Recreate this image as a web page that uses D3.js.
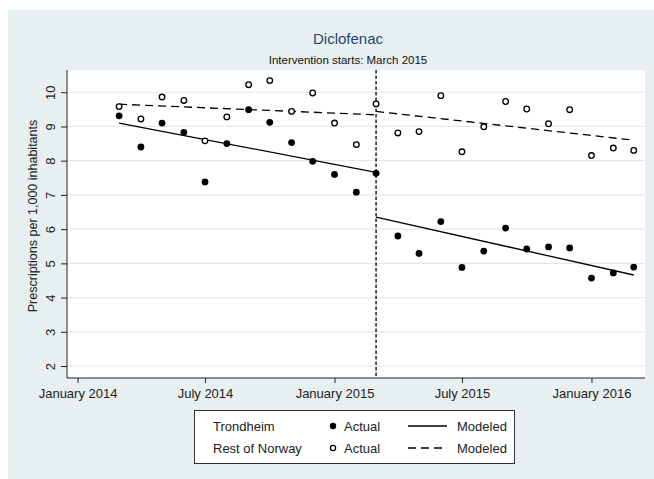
<!DOCTYPE html>
<html>
<head>
	<title>Diclofenac</title>
	<script type="text/javascript" src="https://cdn.jsdelivr.net/npm/d3@7"></script>
	<style>
		body { margin: 0; background: #ffffff; }
		svg text { font-family: "Liberation Sans", Arial, sans-serif; }
	</style>
</head>
<body>

<div id='chart'></div>

<script type="text/javascript">

// monthly observations, March 2014 .. March 2016
var months = ['2014-03', '2014-04', '2014-05', '2014-06', '2014-07', '2014-08', '2014-09',
	'2014-10', '2014-11', '2014-12', '2015-01', '2015-02', '2015-03', '2015-04', '2015-05',
	'2015-06', '2015-07', '2015-08', '2015-09', '2015-10', '2015-11', '2015-12', '2016-01',
	'2016-02', '2016-03'];

var trondheim = [9.31, 8.40, 9.10, 8.83, 7.38, 8.50, 9.49, 9.12, 8.53, 7.98, 7.60, 7.08, 7.63,
	5.80, 5.29, 6.22, 4.88, 5.36, 6.03, 5.42, 5.48, 5.45, 4.57, 4.72, 4.89];

var restOfNorway = [9.58, 9.22, 9.86, 9.76, 8.58, 9.28, 10.22, 10.34, 9.44, 9.98, 9.10, 8.47, 9.66,
	8.81, 8.85, 9.90, 8.26, 8.99, 9.73, 9.51, 9.08, 9.49, 8.15, 8.37, 8.30];

// modeled segments: [start month, start value, end month, end value]
var trondheimModel = [
	['2014-03', 9.10, '2015-03', 7.66],
	['2015-03', 6.35, '2016-03', 4.66]
];
var restOfNorwayModel = [
	['2014-03', 9.65, '2015-03', 9.34],
	['2015-03', 9.44, '2016-03', 8.60]
];

var intervention = '2015-03';

var yTicks = [2, 3, 4, 5, 6, 7, 8, 9, 10];
var xTicks = ['2014-01', '2014-07', '2015-01', '2015-07', '2016-01'];
var xTickLabels = ['January 2014', 'July 2014', 'January 2015', 'July 2015', 'January 2016'];

var W = 654, H = 479;
var plot = {left: 67, right: 645, top: 70, bottom: 378};

var parseMonth = d3.timeParse('%Y-%m');

var svg = d3.select('#chart').append('svg')
	.attr('width', W)
	.attr('height', H);

// graph region
svg.append('rect')
	.attr('x', 8).attr('y', 10)
	.attr('width', W - 8).attr('height', H - 10)
	.attr('fill', '#e8eff1');

// plot region
svg.append('rect')
	.attr('x', plot.left).attr('y', plot.top)
	.attr('width', plot.right - plot.left).attr('height', plot.bottom - plot.top)
	.attr('fill', '#ffffff');

var x = d3.scaleTime()
	.domain([new Date(2013, 11, 17), new Date(2016, 2, 17)])
	.range([plot.left, plot.right]);

var y = d3.scaleLinear()
	.domain([1.65, 10.65])
	.range([plot.bottom, plot.top]);

// grid
svg.append('g').selectAll('line').data(yTicks)
	.enter().append('line')
		.attr('x1', plot.left).attr('x2', plot.right)
		.attr('y1', function(d){ return y(d); })
		.attr('y2', function(d){ return y(d); })
		.attr('stroke', '#e3eaed')
		.attr('stroke-width', 1.2);

// y axis
var yAxis = svg.append('g')
	.attr('transform', 'translate(' + plot.left + ',0)')
	.call(d3.axisLeft(y).tickValues(yTicks).tickSize(6).tickPadding(4));
yAxis.select('.domain').attr('d', 'M0,' + plot.top + 'V' + plot.bottom).attr('stroke', '#222');
yAxis.selectAll('.tick line').attr('stroke', '#222');
yAxis.selectAll('.tick text')
	.attr('x', 0).attr('dy', 0)
	.attr('transform', 'translate(-12,0) rotate(-90)')
	.attr('text-anchor', 'middle')
	.attr('font-size', 13)
	.attr('fill', '#222');

// x axis
var xAxis = svg.append('g')
	.attr('transform', 'translate(0,' + plot.bottom + ')')
	.call(d3.axisBottom(x)
		.tickValues(xTicks.map(parseMonth))
		.tickFormat(function(d, i){ return xTickLabels[i]; })
		.tickSize(5).tickPadding(6));
xAxis.select('.domain').attr('d', 'M' + plot.left + ',0H' + plot.right).attr('stroke', '#222');
xAxis.selectAll('.tick line').attr('stroke', '#222');
xAxis.selectAll('.tick text')
	.attr('font-size', 13)
	.attr('fill', '#222');

// y title
svg.append('text')
	.attr('transform', 'translate(37,' + 216 + ') rotate(-90)')
	.attr('text-anchor', 'middle')
	.attr('font-size', 12.5)
	.attr('fill', '#222')
	.text('Prescriptions per 1,000 inhabitants');

// titles
svg.append('text')
	.attr('x', 348).attr('y', 44)
	.attr('text-anchor', 'middle')
	.attr('font-size', 15)
	.attr('fill', '#1a476f')
	.text('Diclofenac');

svg.append('text')
	.attr('x', 348).attr('y', 64)
	.attr('text-anchor', 'middle')
	.attr('font-size', 11.5)
	.attr('fill', '#111')
	.text('Intervention starts: March 2015');

// intervention line
svg.append('line')
	.attr('x1', x(parseMonth(intervention))).attr('x2', x(parseMonth(intervention)))
	.attr('y1', plot.top).attr('y2', plot.bottom)
	.attr('stroke', '#000')
	.attr('stroke-width', 1.3)
	.attr('stroke-dasharray', '3.5,2');

// modeled lines
function drawModel(segs, dash) {
	svg.append('g').selectAll('line').data(segs)
		.enter().append('line')
			.attr('x1', function(d){ return x(parseMonth(d[0])); })
			.attr('y1', function(d){ return y(d[1]); })
			.attr('x2', function(d){ return x(parseMonth(d[2])); })
			.attr('y2', function(d){ return y(d[3]); })
			.attr('stroke', '#000')
			.attr('stroke-width', 1.3)
			.attr('stroke-dasharray', dash);
}
drawModel(trondheimModel, null);
drawModel(restOfNorwayModel, '8,5');

// actual points
svg.append('g').selectAll('circle').data(restOfNorway)
	.enter().append('circle')
		.attr('cx', function(d, i){ return x(parseMonth(months[i])); })
		.attr('cy', function(d){ return y(d); })
		.attr('r', 2.8)
		.attr('fill', '#fff')
		.attr('stroke', '#000')
		.attr('stroke-width', 1.3);

svg.append('g').selectAll('circle').data(trondheim)
	.enter().append('circle')
		.attr('cx', function(d, i){ return x(parseMonth(months[i])); })
		.attr('cy', function(d){ return y(d); })
		.attr('r', 3.4)
		.attr('fill', '#000');

// legend
var legend = svg.append('g');
legend.append('rect')
	.attr('x', 194.5).attr('y', 410.5)
	.attr('width', 320).attr('height', 53)
	.attr('fill', '#fff')
	.attr('stroke', '#333')
	.attr('stroke-width', 1);

var legendRows = [
	{name: 'Trondheim', filled: true, dash: null},
	{name: 'Rest of Norway', filled: false, dash: '8,5'}
];

legendRows.forEach(function(row, i){
	var ly = 431 + i * 22;
	legend.append('text').attr('x', 213).attr('y', ly).attr('font-size', 13).attr('fill', '#222').text(row.name);
	legend.append('circle')
		.attr('cx', 333).attr('cy', ly - 5)
		.attr('r', row.filled ? 3.2 : 2.6)
		.attr('fill', row.filled ? '#000' : '#fff')
		.attr('stroke', '#000')
		.attr('stroke-width', row.filled ? 0 : 1.3);
	legend.append('text').attr('x', 344).attr('y', ly).attr('font-size', 13).attr('fill', '#222').text('Actual');
	legend.append('line')
		.attr('x1', 408).attr('x2', 447)
		.attr('y1', ly - 5).attr('y2', ly - 5)
		.attr('stroke', '#000')
		.attr('stroke-width', 1.3)
		.attr('stroke-dasharray', row.dash);
	legend.append('text').attr('x', 457).attr('y', ly).attr('font-size', 13).attr('fill', '#222').text('Modeled');
});

</script>

</body>
</html>
